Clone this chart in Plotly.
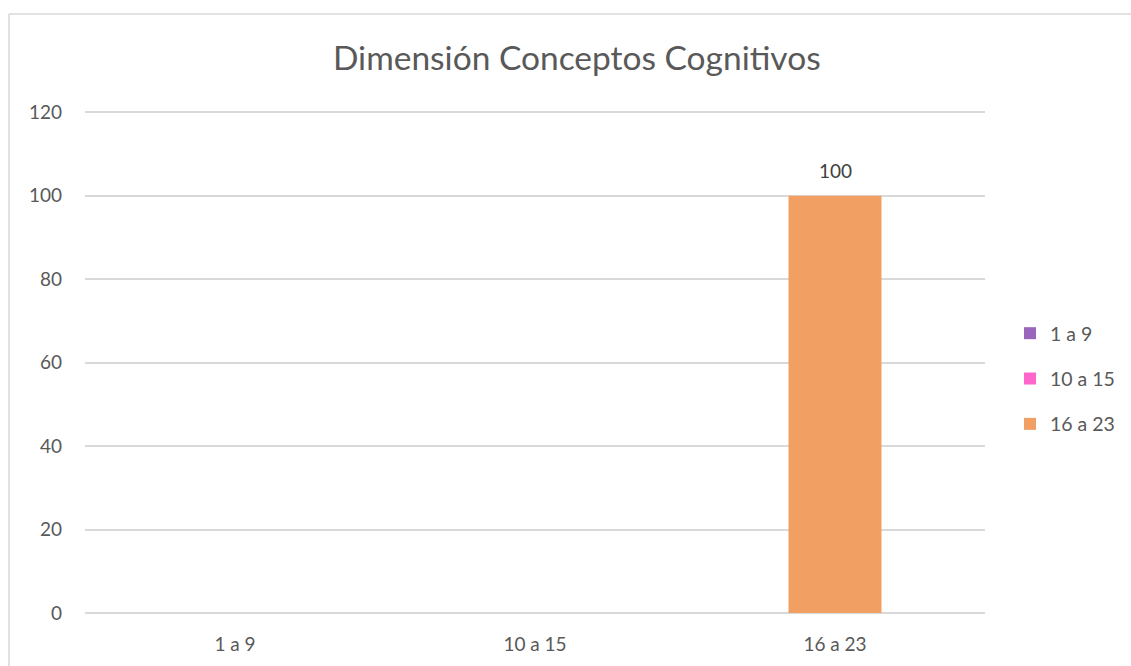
import plotly.graph_objects as go

categories = ["1 a 9", "10 a 15", "16 a 23"]
values = [0, 0, 100]
series_names = ["1 a 9", "10 a 15", "16 a 23"]
colors = ["#9966BB", "#FF66CC", "#F19F63"]
y_ticks = [0, 20, 40, 60, 80, 100, 120]

W, H = 1131, 666
L, R, T, B = 85, 985, 108, 613

fig = go.Figure()
for name, cat, val, col in zip(series_names, categories, values, colors):
    fig.add_trace(go.Bar(
        x=[cat], y=[val], name=name, legendgroup=name,
        marker=dict(color=col, line=dict(width=0)),
        width=0.31,
    ))
    if val:
        fig.add_annotation(x=cat, y=val, xref="x", yref="y", text=str(val),
                           showarrow=False, yshift=25, yanchor="middle",
                           font=dict(size=19, color="#404040"))

def px_x(p):
    return (p - L) / (R - L)

def px_y(p):
    return (B - p) / (B - T)

fig.update_layout(
    width=W, height=H,
    margin=dict(l=L, r=W - R, t=T, b=H - B, pad=0, autoexpand=False),
    paper_bgcolor="white", plot_bgcolor="white",
    barmode="overlay",
    font=dict(family="Lato, Open Sans, sans-serif", color="#595959", size=19),
    title=dict(text="Dimensión Conceptos Cognitivos", x=0.51, xref="container",
               y=1 - 58 / H, yanchor="middle", xanchor="center",
               font=dict(size=33.5, color="#595959")),
    xaxis=dict(categoryorder="array", categoryarray=categories,
               showgrid=False, showline=False, ticks="", zeroline=False,
               ticklabelstandoff=18, tickfont=dict(size=19, color="#595959")),
    yaxis=dict(range=[0, 121], tickvals=y_ticks, showgrid=True,
               gridcolor="#D9D9D9", gridwidth=1.5, zeroline=True,
               zerolinecolor="#D9D9D9", zerolinewidth=1.5, showline=False,
               ticks="", ticklabelstandoff=22,
               tickfont=dict(size=19, color="#595959")),
    legend=dict(x=px_x(1010), y=px_y(314), xanchor="left", yanchor="top",
                traceorder="grouped", tracegroupgap=17, itemwidth=30,
                font=dict(size=19.5, color="#595959"), bgcolor="rgba(0,0,0,0)"),
    showlegend=True,
)

bx, by = px_x(9), px_y(14)
fig.add_shape(type="line", xref="paper", yref="paper", x0=bx, x1=bx, y0=by, y1=px_y(700),
              line=dict(color="#D9D9D9", width=1.5))
fig.add_shape(type="line", xref="paper", yref="paper", x0=bx, x1=px_x(1140), y0=by, y1=by,
              line=dict(color="#D9D9D9", width=1.5))

fig.write_html("out.html", config={"displayModeBar": False},
               post_script="document.body.style.margin='0';")
